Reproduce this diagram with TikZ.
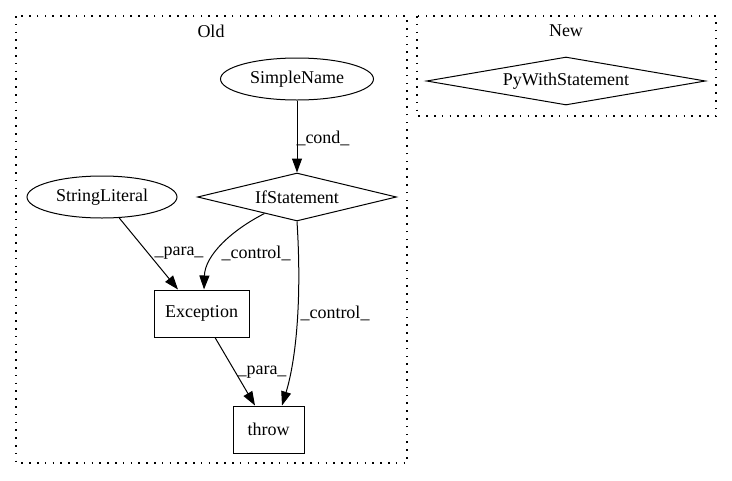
\documentclass[tikz,border=0pt]{standalone}
\usepackage{fontspec}
\setmainfont{Liberation Serif}
\usetikzlibrary{arrows.meta,shapes.geometric}

\begin{document}
\begin{tikzpicture}[x=1pt,y=-1pt,every node/.style={font=\fontsize{18}{21}\selectfont},
  edge/.style={line width=1pt,-{Triangle[length=14pt,width=10pt]}},
  lbl/.style={inner sep=0pt},
  cluster/.style={line width=1.2pt,dash pattern=on 1.6pt off 6.2pt}]

\useasboundingbox (0,0) rectangle (732,480);

% clusters
\draw[cluster] (16,16) rectangle (407,463);
\draw[cluster] (417,16) rectangle (716,116);
\node (oldlbl) at (211,31) {Old};
\node (newlbl) at (566,31) {New};

\node (simplename) [draw,line width=1pt,ellipse,minimum width=153pt,minimum height=42pt,inner sep=0pt] at (297,79) {SimpleName};
\node (ifstmt) [draw,line width=1pt,diamond,shape aspect=4.2,minimum width=199pt,minimum height=48pt,inner sep=0pt] at (297,197) {IfStatement};
\node (stringlit) [draw,line width=1pt,ellipse,minimum width=150pt,minimum height=42pt,inner sep=0pt] at (102,197) {StringLiteral};
\node (exception) [draw,line width=1pt,rectangle,minimum width=95pt,minimum height=47pt,inner sep=0pt] at (201.5,313.5) {Exception};
\node (throw) [draw,line width=1pt,rectangle,minimum width=71pt,minimum height=47pt,inner sep=0pt] at (268.5,429.5) {throw};
\node (pywith) [draw,line width=1pt,diamond,shape aspect=5.8,minimum width=279pt,minimum height=48pt,inner sep=0pt] at (566,81) {PyWithStatement};

\draw[edge] (simplename) -- (ifstmt);
\draw[edge] (stringlit) -- (exception.north west -| 178,0);
\draw[edge] (ifstmt) .. controls (232,230) and (205,255) .. (exception.north -| 204,0);
\draw[edge] (ifstmt.south) .. controls (302,300) and (296,360) .. (throw.north -| 282,0);
\draw[edge] (exception.south -| 215,0) -- (throw.north -| 255,0);

\node (cond) [lbl] at (323,138) {\_cond\_};
\node (para1) [lbl] at (179,253) {\_para\_};
\node (ctrl1) [lbl] at (256,253) {\_control\_};
\node (ctrl2) [lbl] at (335,313) {\_control\_};
\node (para2) [lbl] at (262,372) {\_para\_};

\end{tikzpicture}
\end{document}
